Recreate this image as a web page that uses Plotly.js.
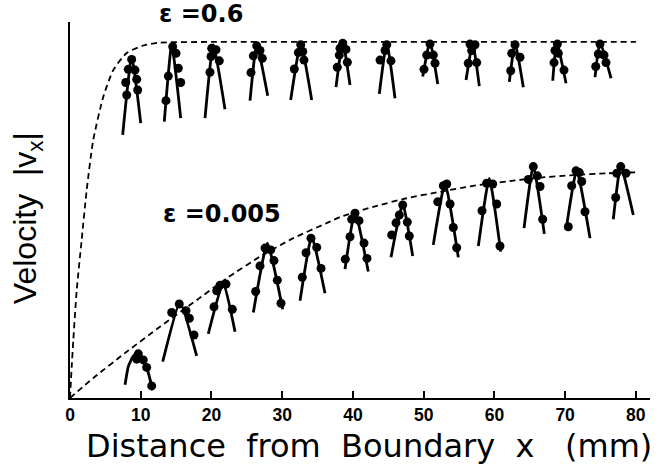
<!DOCTYPE html>
<html>
<head>
<meta charset="utf-8">
<script src="https://cdn.plot.ly/plotly-3.0.1.min.js"></script>
<style>html,body{margin:0;padding:0;background:#fff;}#chart{width:662px;height:470px;}</style>
</head>
<body>
<div id="chart"></div>
<script>
// ---- data (x: distance from boundary in mm, y: velocity in % of plateau) ----
const tickVals = [0, 10, 20, 30, 40, 50, 60, 70, 80];

// dashed theoretical curve, eps = 0.6
const fastCurveX = [0, 0.24, 0.47, 0.95, 1.65, 2.36, 3.29, 4.71, 6.12, 8.02, 10.36, 12.72, 20, 40, 60, 80];
const fastCurveY = [0, 8.8, 16.3, 30.3, 44.4, 58.4, 72.5, 84.6, 92.1, 96.9, 99.0, 99.8, 100, 100, 100, 100];

// dashed theoretical curve, eps = 0.005
const slowCurveX = [0, 3.29, 8.02, 12.72, 17.43, 22.15, 26.86, 31.57, 36.29, 38.17, 42.88, 47.6, 52.31, 57.02, 61.74, 66.45, 71.16, 75.88, 80.12];
const slowCurveY = [0, 5.6, 13.0, 20.0, 26.8, 33.6, 39.7, 44.9, 49.1, 50.8, 53.7, 56.1, 57.9, 59.6, 60.8, 61.9, 62.6, 63.1, 63.4];

// measured profiles, eps = 0.6 (left end, apex, right end)
const upLineX = [
  [7.45, 8.72, 10.0], [13.33, 14.38, 15.65], [19.09, 20.26, 21.91], [25.45, 26.4, 27.95],
  [31.2, 32.62, 34.17], [37.61, 38.56, 39.59], [43.73, 44.78, 45.95], [49.87, 50.9, 51.99],
  [55.99, 56.93, 57.87], [62.11, 62.92, 64.09], [68.25, 68.81, 70.13], [74.23, 74.93, 76.49]];
const upLineY = [
  [73.9, 95.9, 77.2], [77.6, 99.2, 78.6], [78.6, 99.2, 81.1], [83.5, 99.4, 84.9],
  [83.7, 99.6, 83.7], [87.3, 100.1, 87.9], [85.4, 99.8, 84.2], [90.3, 100.1, 88.2],
  [89.3, 99.6, 87.6], [88.8, 99.6, 87.3], [89.1, 100, 88.4], [90.1, 100.1, 89.8]];
const upDotX = [
  [8.72, 8.24, 9.19, 7.88, 9.43, 8.02, 9.57], [14.52, 14.99, 15.31, 13.9, 15.65, 13.57],
  [20.03, 20.64, 19.94, 21.11, 19.79], [26.4, 26.86, 25.92, 27.19, 25.59],
  [32.62, 32.28, 32.9, 33.08, 31.71], [38.56, 38.17, 39.02, 38.07, 39.21, 37.79],
  [44.78, 44.54, 43.83, 45.38], [50.9, 50.43, 51.37, 51.61, 50.05],
  [56.55, 57.26, 56.79, 56.31, 57.5], [62.92, 62.45, 63.62, 62.31],
  [68.9, 68.57, 69.04, 68.43, 69.84], [74.93, 74.69, 75.5, 75.78, 74.33]];
const upDotY = [
  [95.1, 92.3, 92.1, 88.6, 89.5, 85.1, 86.5], [98.7, 96.8, 92.6, 90.4, 88.6, 83.5],
  [98.2, 97.8, 95.9, 94.7, 91.5], [98.9, 97.6, 96.1, 95.4, 91.4],
  [99.2, 97.0, 97.3, 94.9, 92.4], [99.6, 98.2, 97.9, 96.3, 94.3, 92.9],
  [99.2, 97.6, 94.9, 94.7], [99.4, 96.3, 96.3, 94.0, 92.3],
  [99.4, 99.2, 97.6, 94.0, 94.2], [99.2, 96.8, 95.7, 91.9],
  [99.4, 97.6, 96.8, 94.2, 92.1], [99.4, 96.6, 96.3, 94.2, 93.1]];

// measured profiles, eps = 0.005
const lowLineX = [
  [7.78, 8.24, 8.95, 9.66, 10.84, 11.69], [13.11, 15.55, 17.91], [19.55, 21.67, 23.33],
  [25.92, 27.9, 30.07], [32.52, 34.17, 36.05], [38.88, 40.29, 42.17], [45.38, 47.04, 48.45],
  [51.36, 53.02, 54.9], [57.73, 59.28, 60.89], [64.19, 65.5, 67.06], [70.13, 71.64, 73.52],
  [76.81, 77.86, 79.64]];
const lowLineY = [
  [3.7, 8.8, 11.8, 12.6, 8.6, 2.2], [10.2, 26.8, 11.8], [18.0, 32.4, 18.6],
  [24.0, 43.5, 24.9], [27.3, 45.3, 29.4], [36.2, 52.3, 35.5], [39.5, 54.5, 39.9],
  [43.0, 60.3, 39.5], [42.7, 61.7, 41.1], [47.7, 65.2, 46.1], [47.2, 64.0, 44.9],
  [50.2, 65.2, 51.4]];
const lowDotX = [
  [9.66, 9.43, 10.36, 10.84, 11.55], [15.45, 14.38, 16.4, 16.87, 17.53],
  [21.21, 22.06, 20.74, 20.36, 22.95], [27.57, 28.38, 26.86, 28.84, 29.31, 26.25, 29.83],
  [34.07, 33.37, 34.88, 35.49, 32.84], [40.29, 39.83, 40.86, 39.59, 41.57, 38.92, 41.99],
  [47.04, 46.56, 46.09, 47.69, 45.48, 47.97], [52.78, 53.26, 51.99, 53.73, 54.19, 54.67],
  [58.91, 59.76, 58.25, 60.33, 60.79], [65.5, 64.8, 66.07, 66.45, 66.83],
  [71.54, 72.01, 72.35, 70.93, 72.81, 70.45], [77.86, 77.3, 78.61, 77.15]];
const lowDotY = [
  [12.4, 10.9, 10.7, 8.6, 3.4], [26.4, 24.0, 24.5, 22.4, 17.7],
  [31.7, 32.0, 30.1, 25.6, 24.9], [42.1, 41.6, 37.1, 38.6, 33.1, 29.9, 26.6],
  [44.9, 40.8, 42.3, 36.4, 33.9], [51.9, 50.2, 49.8, 45.3, 43.5, 39.0, 39.2],
  [54.2, 51.4, 49.2, 49.4, 45.8, 45.5], [59.6, 60.1, 55.1, 54.5, 47.9, 42.2],
  [60.3, 60.1, 52.6, 54.5, 42.7], [65.0, 61.4, 62.4, 59.4, 50.2],
  [63.8, 63.3, 60.8, 59.6, 52.3, 48.1], [65.0, 63.1, 63.1, 56.3]];

const labelFast = 'ε =0.6';
const labelSlow = 'ε =0.005';
const xTitle = 'Distance\u00a0\u00a0from\u00a0\u00a0Boundary\u00a0\u00a0x\u00a0\u00a0\u00a0(mm)';
const yTitle = 'Velocity\u00a0\u00a0|v<sub>x</sub>|';

// ---- build traces ----
const flat = a => [].concat(...a);
const traces = [];
function profileTraces(lx, ly, dx, dy) {
  lx.forEach((xs, i) => {
    traces.push({x: xs, y: ly[i], mode: 'lines', type: 'scatter',
      line: {color: '#000', width: 2.8, shape: 'spline', smoothing: 0.45}, hoverinfo: 'skip'});
  });
  traces.push({x: flat(dx), y: flat(dy), mode: 'markers', type: 'scatter',
    marker: {color: '#000', size: 9, line: {width: 0}}, hoverinfo: 'skip'});
}
traces.push({x: fastCurveX, y: fastCurveY, mode: 'lines', type: 'scatter',
  line: {color: '#000', width: 1.8, dash: '6px,4px', shape: 'spline', smoothing: 0.6}});
traces.push({x: slowCurveX, y: slowCurveY, mode: 'lines', type: 'scatter',
  line: {color: '#000', width: 1.8, dash: '6px,4px', shape: 'spline', smoothing: 0.6}});
profileTraces(upLineX, upLineY, upDotX, upDotY);
profileTraces(lowLineX, lowLineY, lowDotX, lowDotY);

const layout = {
  width: 662, height: 470,
  margin: {l: 70, r: 12, t: 22, b: 72},
  paper_bgcolor: '#fff', plot_bgcolor: '#fff',
  showlegend: false,
  font: {family: 'Liberation Sans, Arial, sans-serif', color: '#000'},
  xaxis: {
    range: [0, 82], showgrid: false, zeroline: false,
    showline: true, linecolor: '#000', linewidth: 2,
    ticks: 'inside', ticklen: 7, tickwidth: 2, tickcolor: '#000',
    tickvals: tickVals, ticktext: tickVals.map(String),
    tickfont: {family: 'Liberation Sans, Arial, sans-serif', size: 17.5, weight: 'bold', color: '#000'}
  },
  yaxis: {
    range: [0, 105.6], showgrid: false, zeroline: false,
    showline: true, linecolor: '#000', linewidth: 2,
    ticks: '', showticklabels: false
  },
  annotations: [
    {text: labelFast, x: 0.225, y: 1.02, xref: 'paper', yref: 'paper', showarrow: false,
      xanchor: 'center', yanchor: 'middle',
      font: {family: 'DejaVu Sans, sans-serif', size: 24, weight: 'bold', color: '#000'}},
    {text: labelSlow, x: 21.5, y: 51.7, xref: 'x', yref: 'y', showarrow: false,
      xanchor: 'center', yanchor: 'middle',
      font: {family: 'DejaVu Sans, sans-serif', size: 24, weight: 'bold', color: '#000'}},
    {text: xTitle, x: 0.515, y: -0.128, xref: 'paper', yref: 'paper', showarrow: false,
      xanchor: 'center', yanchor: 'middle',
      font: {family: 'DejaVu Sans, sans-serif', size: 32, color: '#000'}},
    {text: yTitle, x: -0.072, y: 0.479, xref: 'paper', yref: 'paper', showarrow: false,
      textangle: -90, xanchor: 'center', yanchor: 'middle',
      font: {family: 'Liberation Sans, Arial, sans-serif', size: 32, color: '#000'}}
  ]
};

Plotly.newPlot('chart', traces, layout, {staticPlot: true, displayModeBar: false});
</script>
</body>
</html>
